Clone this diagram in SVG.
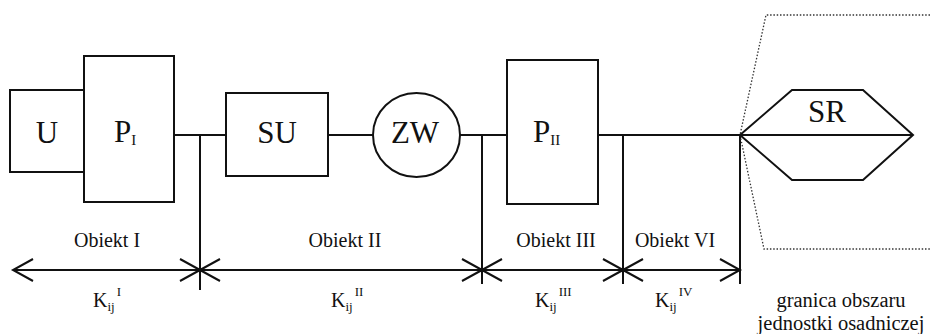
<svg xmlns="http://www.w3.org/2000/svg" width="930" height="334" viewBox="0 0 930 334">
<style>
.box{fill:#fff;stroke:#111;stroke-width:2}
.ln{fill:none;stroke:#111;stroke-width:2}
.dot{fill:none;stroke:#333;stroke-width:1.3;stroke-dasharray:1.5 1.8}
text{font-family:"Liberation Serif","DejaVu Serif","Noto Serif",serif;fill:#111}
.big{font-size:31px}
.sub{font-size:15px}
.lab{font-size:20px}
.gr{font-size:20.5px}
.k{font-size:20px}
.ks{font-size:13px}
</style>
<rect width="930" height="334" fill="#fff"/>
<g id="connectors">
  <path class="ln" d="M174 135H226M328 135H373M460 135H507M598 135H740"/>
  <path class="ln" d="M200 135V290M482 135V284M623 135V284M740 135V284"/>
  <path class="ln" d="M13 270H740"/>
  <path class="ln" d="M33 259L13 270L33 281"/>
  <path class="ln" d="M180 259L220 281M180 281L220 259"/>
  <path class="ln" d="M462 259L502 281M462 281L502 259"/>
  <path class="ln" d="M603 259L643 281M603 281L643 259"/>
  <path class="ln" d="M720 259L740 270L720 281"/>
</g>
<g id="boundary">
  <path class="dot" d="M930 15H766L740 135L764 249H930"/>
</g>
<g id="node-U">
  <rect class="box" x="10" y="90" width="74" height="82"/>
  <text class="big" x="47" y="143" text-anchor="middle">U</text>
</g>
<g id="node-P1">
  <rect class="box" x="84" y="56" width="90" height="146"/>
  <text class="big" x="114" y="142">P<tspan class="sub" dy="3">I</tspan></text>
</g>
<g id="node-SU">
  <rect class="box" x="226" y="93" width="102" height="83"/>
  <text class="big" x="277" y="143" text-anchor="middle">SU</text>
</g>
<g id="node-ZW">
  <ellipse class="box" cx="416.5" cy="135" rx="43.5" ry="42"/>
  <text class="big" x="415" y="143" text-anchor="middle">ZW</text>
</g>
<g id="node-P2">
  <rect class="box" x="507" y="60" width="91" height="144"/>
  <text class="big" x="533" y="142">P<tspan class="sub" dy="3">II</tspan></text>
</g>
<g id="node-SR">
  <path class="box" d="M740 135L792 90H863L913 135L863 180H792Z"/>
  <path class="ln" d="M740 135H913"/>
  <text class="big" x="827" y="122" text-anchor="middle">SR</text>
</g>
<g id="labels">
  <text class="lab" x="107" y="247" text-anchor="middle">Obiekt I</text>
  <text class="lab" x="345" y="247" text-anchor="middle">Obiekt II</text>
  <text class="lab" x="556" y="247" text-anchor="middle">Obiekt III</text>
  <text class="lab" x="675" y="247" text-anchor="middle">Obiekt VI</text>
  <text class="k" x="93" y="307">K<tspan class="ks" dy="4">ij</tspan><tspan class="ks" dx="2" dy="-15">I</tspan></text>
  <text class="k" x="331" y="307">K<tspan class="ks" dy="4">ij</tspan><tspan class="ks" dx="2" dy="-15">II</tspan></text>
  <text class="k" x="535" y="307">K<tspan class="ks" dy="4">ij</tspan><tspan class="ks" dx="2" dy="-15">III</tspan></text>
  <text class="k" x="655" y="307">K<tspan class="ks" dy="4">ij</tspan><tspan class="ks" dx="2" dy="-15">IV</tspan></text>
  <text class="gr" x="841" y="307" text-anchor="middle">granica obszaru</text>
  <text class="gr" x="841" y="330" text-anchor="middle">jednostki osadniczej</text>
</g>
</svg>
